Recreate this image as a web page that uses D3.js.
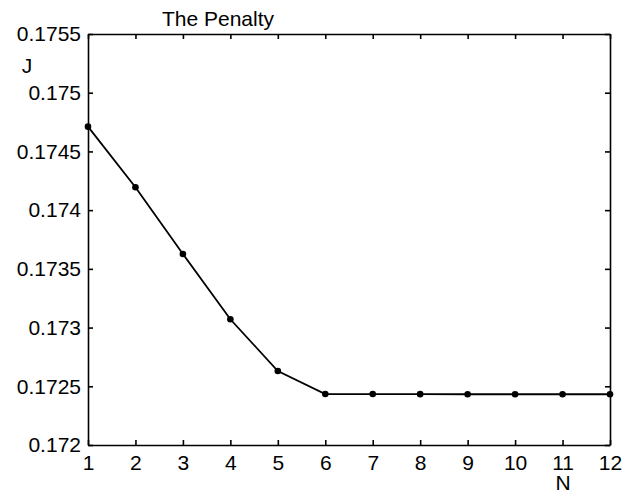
<!DOCTYPE html>
<html>
<head>
<meta charset="utf-8">
<script src="https://cdn.jsdelivr.net/npm/d3@7"></script>
<style>
    body { margin: 0; background: #fff; }
    svg { display: block; }
    .axis text { font-family: "Liberation Sans", Arial, sans-serif; font-size: 21px; fill: #000; }
    .axis path, .axis line { stroke: #000; stroke-width: 1.6; }
    .label { font-family: "Liberation Sans", Arial, sans-serif; font-size: 21px; fill: #000; }
</style>
</head>
<body>
<script>

// Data
var nValues = [1, 2, 3, 4, 5, 6, 7, 8, 9, 10, 11, 12];
var penalty = [0.174711, 0.174195, 0.173627, 0.173071, 0.172630, 0.172434,
               0.172434, 0.172433, 0.172432, 0.172432, 0.172432, 0.172432];
var yTicks = [0.172, 0.1725, 0.173, 0.1735, 0.174, 0.1745, 0.175, 0.1755];
var yTickLabels = ["0.172", "0.1725", "0.173", "0.1735", "0.174", "0.1745", "0.175", "0.1755"];

/*
 * Draws the line plot
 */

function linePlot() {

    // Dimensions of the figure
    var svgWidth = 632;
    var svgHeight = 495;

    // Plot box edges
    var left = 88;
    var right = 610;
    var top = 34;
    var bottom = 445;

    const svg = d3.select("body").append("svg")
        .attr("width", svgWidth)
        .attr("height", svgHeight);

    // Scaling functions
    const xScale = d3.scaleLinear()
        .domain([1, 12])
        .range([left, right]);

    const yScale = d3.scaleLinear()
        .domain([0.172, 0.1755])
        .range([bottom, top]);

    // Bottom axis
    svg.append("g")
        .attr("class", "axis")
        .attr("transform", `translate(0, ${bottom})`)
        .call(d3.axisBottom(xScale)
            .tickValues(nValues)
            .tickFormat(d3.format("d"))
            .tickSizeInner(-5)
            .tickSizeOuter(0)
            .tickPadding(10));

    // Top axis (ticks only)
    svg.append("g")
        .attr("class", "axis")
        .attr("transform", `translate(0, ${top})`)
        .call(d3.axisTop(xScale)
            .tickValues(nValues)
            .tickFormat("")
            .tickSizeInner(-5)
            .tickSizeOuter(0));

    // Left axis
    svg.append("g")
        .attr("class", "axis")
        .attr("transform", `translate(${left}, 0)`)
        .call(d3.axisLeft(yScale)
            .tickValues(yTicks)
            .tickFormat(function(d, i) { return yTickLabels[i]; })
            .tickSizeInner(-5)
            .tickSizeOuter(0)
            .tickPadding(7));

    // Right axis (ticks only)
    svg.append("g")
        .attr("class", "axis")
        .attr("transform", `translate(${right}, 0)`)
        .call(d3.axisRight(yScale)
            .tickValues(yTicks)
            .tickFormat("")
            .tickSizeInner(-5)
            .tickSizeOuter(0));

    // The line
    var line = d3.line()
        .x(function(d, i) { return xScale(nValues[i]); })
        .y(function(d) { return yScale(d); });

    svg.append("path")
        .datum(penalty)
        .attr("d", line)
        .attr("fill", "none")
        .attr("stroke", "#000")
        .attr("stroke-width", 1.8);

    // The markers
    svg.selectAll(".point")
        .data(penalty)
        .enter()
        .append("circle")
        .attr("class", "point")
        .attr("cx", function(d, i) { return xScale(nValues[i]); })
        .attr("cy", function(d) { return yScale(d); })
        .attr("r", 3.3)
        .attr("fill", "#000");

    // Title and labels
    svg.append("text")
        .attr("class", "label")
        .attr("x", 218)
        .attr("y", 26)
        .attr("text-anchor", "middle")
        .text("The Penalty");

    svg.append("text")
        .attr("class", "label")
        .attr("x", 27)
        .attr("y", 73)
        .attr("text-anchor", "middle")
        .text("J");

    svg.append("text")
        .attr("class", "label")
        .attr("x", 563)
        .attr("y", 490)
        .attr("text-anchor", "middle")
        .text("N");
};

linePlot();

</script>
</body>
</html>
